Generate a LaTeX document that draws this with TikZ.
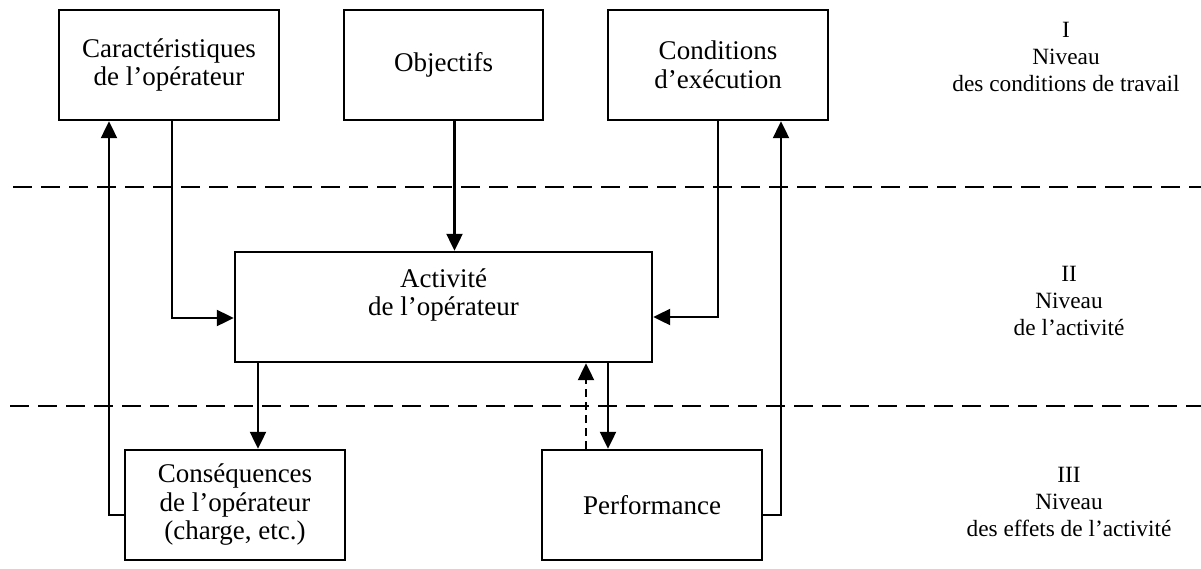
\documentclass[tikz,border=0pt]{standalone}
\usepackage{fontspec}
\setmainfont{Liberation Serif}
\usetikzlibrary{arrows.meta}

\begin{document}
\begin{tikzpicture}[x=1pt,y=1pt]
\tikzstyle{every node}+=[inner sep=0pt]
\tikzstyle{box}=[draw=black, line width=2.4pt, minimum width=220pt, minimum height=110pt, align=center, font=\fontsize{27}{28.5}\selectfont]
\tikzstyle{niveau}=[align=center, font=\fontsize{23.3}{27}\selectfont]
\tikzstyle{arr}=[black, line width=2.2pt, -{Triangle[length=17pt,width=16pt]}]
\tikzstyle{sep}=[black, line width=2.2pt, dash pattern=on 19pt off 9pt]
\useasboundingbox (0,0) rectangle (1201,-568);
\draw [sep] (13,-187) -- (1201,-187);
\draw [sep] (10,-406) -- (1201,-406);
\node [box] (caract) at (169,-65) {Caractéristiques\\de l’opérateur};
\node [box, minimum width=199pt] (obj) at (443.5,-65) {Objectifs};
\node [box] (cond) at (718,-65) {Conditions\\d’exécution};
\node [box, minimum width=417pt] (act) at (443.5,-307) {};
\node [box, draw=none] (acttxt) at ([yshift=12]act.center) {Activité\\de l’opérateur};
\node [box] (cons) at (235,-505) {Conséquences\\de l’opérateur\\(charge, etc.)};
\node [box] (perf) at (652,-505) {Performance};
\node [niveau] (niv1) at (1066,-57) {I\\Niveau\\des conditions de travail};
\node [niveau] (niv2) at (1069,-301) {II\\Niveau\\de l’activité};
\node [niveau] (niv3) at (1069,-502) {III\\Niveau\\des effets de l’activité};
\coordinate (consin) at ([xshift=23]cons.north);
\coordinate (perfin) at ([xshift=-44]perf.north);
\coordinate (perfout) at ([xshift=-66]perf.north);
\coordinate (objout) at ([xshift=11]obj.south);
\draw [arr] ([xshift=3]caract.south) |- ([yshift=-11]act.west);
\draw [arr] (objout) -- (objout |- act.north);
\draw [arr] (cond.south) |- ([yshift=-10]act.east);
\draw [arr] (consin |- act.south) -- (consin);
\draw [arr] (perfin |- act.south) -- (perfin);
\draw [arr, dash pattern=on 8pt off 5pt] (perfout) -- (perfout |- act.south);
\draw [arr] ([yshift=-10]cons.west) -| ([xshift=-60]caract.south);
\draw [arr] ([yshift=-10]perf.east) -| ([xshift=63]cond.south);
\end{tikzpicture}
\end{document}
